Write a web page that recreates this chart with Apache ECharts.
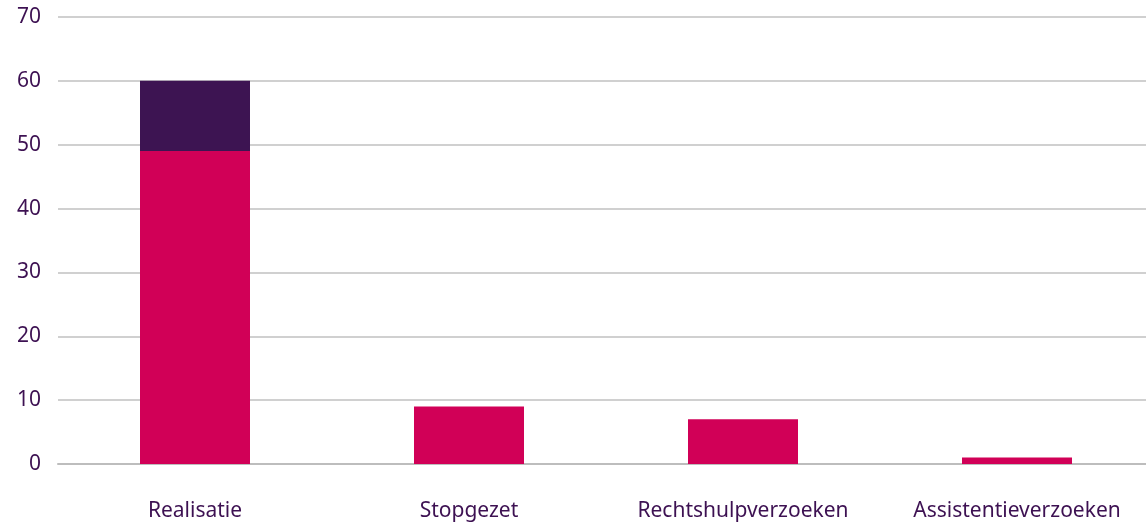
<!DOCTYPE html>
<html>
<head>
<meta charset="utf-8">
<script src="https://cdn.jsdelivr.net/npm/echarts@6/dist/echarts.min.js"></script>
<style>
  html, body { margin: 0; padding: 0; background: #fff; overflow: hidden; }
  #chart-container { width: 1154px; height: 528px; }
</style>
</head>
<body>
<div id="chart-container"></div>
<script>
var categories = ["Realisatie", "Stopgezet", "Rechtshulpverzoeken", "Assistentieverzoeken"];
var pinkValues = [49, 9, 7, 1];
var purpleValues = [11, 0, 0, 0];
var yTicks = [0, 10, 20, 30, 40, 50, 60, 70];

var dom = document.getElementById("chart-container");
var myChart = echarts.init(dom);
var textColor = "#3d1152";
var option = {
  animation: false,
  grid: {
    left: 58,
    right: 0,
    top: 17,
    bottom: 64
  },
  xAxis: {
    type: "category",
    data: categories,
    axisLine: { show: true, lineStyle: { color: "#bdbdbd", width: 2 } },
    axisTick: { show: false },
    axisLabel: {
      color: textColor,
      fontFamily: "Noto Sans",
      fontSize: 21,
      margin: 37,
      interval: 0
    }
  },
  yAxis: {
    type: "value",
    min: yTicks[0],
    max: yTicks[yTicks.length - 1],
    interval: 10,
    axisLine: { show: false },
    axisTick: { show: false },
    splitLine: { lineStyle: { color: "#d0d0d0", width: 2 } },
    axisLabel: {
      color: textColor,
      fontFamily: "Noto Sans",
      fontSize: 21,
      margin: 17
    }
  },
  series: [
    {
      name: "a",
      type: "bar",
      stack: "total",
      barWidth: 110,
      itemStyle: { color: "#d10057" },
      data: pinkValues
    },
    {
      name: "b",
      type: "bar",
      stack: "total",
      barWidth: 110,
      itemStyle: { color: "#3d1452" },
      data: purpleValues
    }
  ]
};
myChart.setOption(option, true);
</script>
</body>
</html>
